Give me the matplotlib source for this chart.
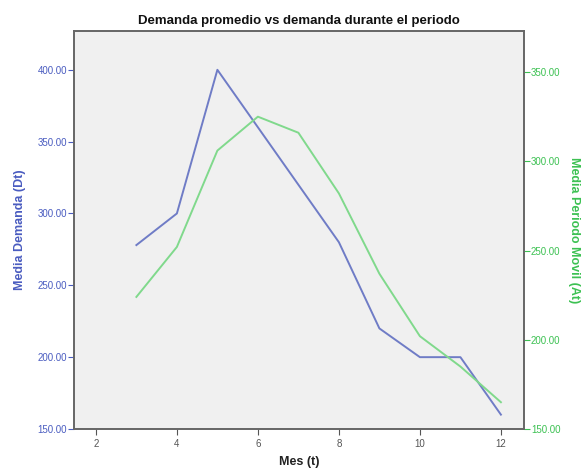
import matplotlib
matplotlib.use("Agg")
import matplotlib.pyplot as plt

# Mes (t) and the two series
meses = [3, 4, 5, 6, 7, 8, 9, 10, 11, 12]
media_demanda = [278, 300, 400, 360, 320, 280, 220, 200, 200, 160]
media_movil = [224, 252, 306, 325, 316, 282, 237, 202, 185, 165]

x_ticks = [2, 4, 6, 8, 10, 12]
left_ticks = [150, 200, 250, 300, 350, 400]
right_ticks = [150, 200, 250, 300, 350]

BLUE_LINE = "#6f7cc6"
GREEN_LINE = "#80d98c"
BLUE_TEXT = "#4a5cc0"
GREEN_TEXT = "#3cc152"

plt.rcParams['font.family'] = ['Liberation Sans', 'DejaVu Sans']

fig = plt.figure(figsize=(5.87, 4.73), dpi=100)
ax = fig.add_axes([74 / 587, 1 - 429 / 473, 450 / 587, 398 / 473])
ax.set_facecolor("#f0f0f0")

ax.plot(meses, media_demanda, color=BLUE_LINE, linewidth=1.4)
ax.set_xlim(1.46, 12.57)
ax.set_ylim(150, 427)
ax.set_xticks(x_ticks)
ax.set_xticklabels([str(t) for t in x_ticks], fontsize=7, color="#555555")
ax.set_yticks(left_ticks)
ax.set_yticklabels([f"{v:.2f}" for v in left_ticks], fontsize=7, color=BLUE_TEXT)
ax.tick_params(axis='y', length=4, width=0.8, color=BLUE_TEXT, pad=1)
ax.tick_params(axis='x', length=4, width=0.8, color="#555555", pad=3)
ax.set_xlabel("Mes (t)", fontsize=9, fontweight='bold', color="#222222", labelpad=5)
ax.set_ylabel("Media Demanda (Dt)", fontsize=9, fontweight='bold', color=BLUE_TEXT, labelpad=8)

ax2 = ax.twinx()
ax2.plot(meses, media_movil, color=GREEN_LINE, linewidth=1.4)
ax2.set_ylim(150, 373)
ax2.set_yticks(right_ticks)
ax2.set_yticklabels([f"{v:.2f}" for v in right_ticks], fontsize=7, color=GREEN_TEXT)
ax2.tick_params(axis='y', length=4, width=0.8, color=GREEN_TEXT, pad=1)
ax2.set_ylabel("Media Periodo Movil (At)", fontsize=9, fontweight='bold', color=GREEN_TEXT,
               rotation=270, labelpad=14)

for a in (ax, ax2):
    for side in ('top', 'bottom', 'left', 'right'):
        a.spines[side].set_color("#666666")
        a.spines[side].set_linewidth(1.2)

ax.set_title("Demanda promedio vs demanda durante el periodo", fontsize=9.5,
             fontweight='bold', color="#111111", pad=5)

fig.savefig("out.png", dpi=100, facecolor="white")
